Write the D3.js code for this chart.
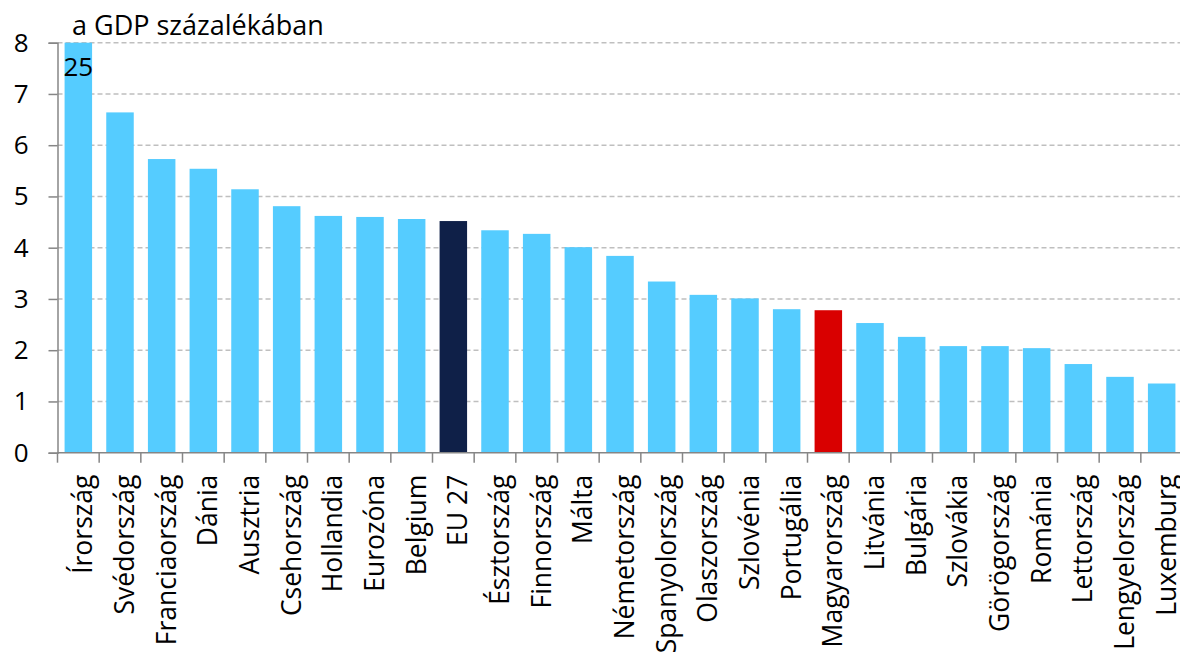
<!DOCTYPE html>
<html>
<head>
<meta charset="utf-8">
<script src="https://cdn.jsdelivr.net/npm/d3@7"></script>
<style>
  body { margin: 0; background: #fff; overflow: hidden; }
  text { font-family: "Open Sans", "Noto Sans", sans-serif; fill: #000; }
</style>
</head>
<body>
<div id="chart"></div>
<script>
const width = 1180;
const height = 655;

// data ========================================================================
const countries = ['Írország', 'Svédország', 'Franciaország', 'Dánia', 'Ausztria', 'Csehország', 'Hollandia',
	'Eurozóna', 'Belgium', 'EU 27', 'Észtország', 'Finnország', 'Málta', 'Németország', 'Spanyolország',
	'Olaszország', 'Szlovénia', 'Portugália', 'Magyarország', 'Litvánia', 'Bulgária', 'Szlovákia',
	'Görögország', 'Románia', 'Lettország', 'Lengyelország', 'Luxemburg'];
const values = [25, 6.64, 5.73, 5.54, 5.14, 4.81, 4.62, 4.6, 4.56, 4.52, 4.34, 4.27, 4.01, 3.84, 3.34,
	3.08, 3.01, 2.8, 2.78, 2.53, 2.26, 2.08, 2.08, 2.04, 1.73, 1.48, 1.35];
const yTicks = [0, 1, 2, 3, 4, 5, 6, 7, 8];
const unitLabel = 'a GDP százalékában';
const clippedLabel = '25';
// ============================================================================

const data = countries.map((c, i) => ({ name: c, value: values[i] }));

const svg = d3.select('#chart').append('svg').attr('width', width).attr('height', height);

const x = d3.scaleBand().domain(countries).range([57.5, 1182.5]).paddingInner(0.34).paddingOuter(0.17);
const y = d3.scaleLinear().domain([0, 8]).range([452.7, 42.7]);

// gridlines
svg.append('g')
	.selectAll('line')
	.data(yTicks.filter((d) => d > 0))
	.join('line')
	.attr('x1', 57.5)
	.attr('x2', width)
	.attr('y1', (d) => y(d))
	.attr('y2', (d) => y(d))
	.attr('stroke', '#bfbfbf')
	.attr('stroke-width', 1.5)
	.attr('stroke-dasharray', '5,3');

// bars
function barColor(d) {
	if (d.name === 'EU 27') return '#0f2048';
	if (d.name === 'Magyarország') return '#d90000';
	return '#55ccff';
}

svg.append('g')
	.selectAll('rect')
	.data(data)
	.join('rect')
	.attr('x', (d) => x(d.name))
	.attr('width', x.bandwidth())
	.attr('y', (d) => y(Math.min(d.value, 8)))
	.attr('height', (d) => y(0) - y(Math.min(d.value, 8)))
	.attr('fill', barColor);

// y axis
const yAxis = svg.append('g')
	.attr('transform', 'translate(57.5,0)')
	.call(d3.axisLeft(y).tickValues(yTicks).tickSize(9).tickPadding(20));
yAxis.select('.domain').attr('stroke', '#868686').attr('stroke-width', 1.5);
yAxis.selectAll('.tick line').attr('stroke', '#868686').attr('stroke-width', 1.5);
yAxis.selectAll('.tick text').style('font-size', '26px').attr('fill', '#000');

// x axis: ticks between categories
const xAxisG = svg.append('g').attr('transform', `translate(0,${y(0)})`);
xAxisG.append('line')
	.attr('x1', 57.5)
	.attr('x2', width)
	.attr('stroke', '#868686')
	.attr('stroke-width', 1.5);
xAxisG.selectAll('.sep')
	.data(countries)
	.join('line')
	.attr('class', 'sep')
	.attr('x1', (d) => x(d) - x.step() * x.paddingInner() / 2)
	.attr('x2', (d) => x(d) - x.step() * x.paddingInner() / 2)
	.attr('y1', 0)
	.attr('y2', 10)
	.attr('stroke', '#868686')
	.attr('stroke-width', 1.5);

xAxisG.selectAll('.lbl')
	.data(countries)
	.join('text')
	.attr('class', 'lbl')
	.attr('transform', (d) => `translate(${x(d) + x.bandwidth() / 2 + 14},22) rotate(-90)`)
	.attr('text-anchor', 'end')
	.style('font-size', '26.5px')
	.text((d) => d);

// unit label and clipped value
svg.append('text')
	.attr('x', 72)
	.attr('y', 35)
	.style('font-size', '27px')
	.text(unitLabel);

svg.append('text')
	.attr('x', x(countries[0]) + x.bandwidth() / 2)
	.attr('y', 76)
	.attr('text-anchor', 'middle')
	.style('font-size', '26px')
	.text(clippedLabel);
</script>
</body>
</html>
